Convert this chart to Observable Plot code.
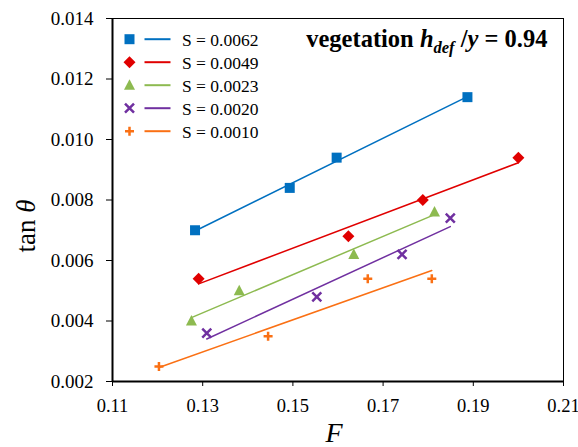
<!DOCTYPE html>
<html><head><meta charset="utf-8">
<script src="https://cdn.jsdelivr.net/npm/d3@7"></script>
<script src="https://cdn.jsdelivr.net/npm/@observablehq/plot@0.6"></script>
<style>
body{margin:0;background:#fff}
#chart svg, #chart svg text, #chart svg tspan { font-family: "Liberation Serif", "Times New Roman", serif !important; }
</style>
</head><body><div id="chart"></div>
<script>
// ---- data ----
const seriesLabels = ["S = 0.0062", "S = 0.0049", "S = 0.0023", "S = 0.0020", "S = 0.0010"];
const F_0062 = [0.1283, 0.1493, 0.1597, 0.1887];
const tan_0062 = [0.0070, 0.0084, 0.0094, 0.0114];
const F_0049 = [0.1291, 0.1623, 0.1788, 0.2000];
const tan_0049 = [0.0054, 0.0068, 0.0080, 0.0094];
const F_0023 = [0.1275, 0.1381, 0.1635, 0.1814];
const tan_0023 = [0.0040, 0.0050, 0.0062, 0.0076];
const F_0020 = [0.1309, 0.1553, 0.1742, 0.1849];
const tan_0020 = [0.0036, 0.0048, 0.0062, 0.0074];
const F_0010 = [0.1203, 0.1445, 0.1666, 0.1808];
const tan_0010 = [0.0025, 0.0035, 0.0054, 0.0054];
const xTicks = [0.11, 0.13, 0.15, 0.17, 0.19, 0.21];
const yTicks = [0.002, 0.004, 0.006, 0.008, 0.010, 0.012, 0.014];
const annotationText = "vegetation hdef /y = 0.94";
const yLabel = "tan θ";
const xLabel = "F";

// ---- styling ----
const FONT = "'Liberation Serif', 'Times New Roman', serif";
const colors = ["#0070C0", "#E00000", "#8DBA50", "#7030A0", "#FA7014"];
const sym = {
  square: {draw(c){ c.rect(-5, -5, 10, 10); }},
  diamond: {draw(c){ c.moveTo(0,-6); c.lineTo(6,0); c.lineTo(0,6); c.lineTo(-6,0); c.closePath(); }},
  triangle: {draw(c){ c.moveTo(0,-6); c.lineTo(5.5,4.5); c.lineTo(-5.5,4.5); c.closePath(); }},
  times: {draw(c){ c.moveTo(-4.5,-4.5); c.lineTo(4.5,4.5); c.moveTo(4.5,-4.5); c.lineTo(-4.5,4.5); }},
  plus: {draw(c){ c.moveTo(-4.5,0); c.lineTo(4.5,0); c.moveTo(0,-4.5); c.lineTo(0,4.5); }},
  line: {draw(c){ c.moveTo(-13,0); c.lineTo(13,0); }}
};
const symbols = [sym.square, sym.diamond, sym.triangle, sym.times, sym.plus];
const filled = [true, true, true, false, false];

const Fs = [F_0062, F_0049, F_0023, F_0020, F_0010];
const tans = [tan_0062, tan_0049, tan_0023, tan_0020, tan_0010];

const marks = [];
seriesLabels.forEach((s, i) => {
  const rows = Fs[i].map((f, j) => ({S: s, F: f, tan: tans[i][j]}));
  marks.push(Plot.linearRegressionY(rows, {x: "F", y: "tan", stroke: colors[i], strokeWidth: 1.5, ci: 0}));
  marks.push(Plot.dot(rows, filled[i]
    ? {x: "F", y: "tan", symbol: symbols[i], fill: colors[i], stroke: "none"}
    : {x: "F", y: "tan", symbol: symbols[i], fill: "none", stroke: colors[i], strokeWidth: 2.5}));
  // legend row
  const dy = 20.7 + 23 * i;
  marks.push(Plot.dot([s], filled[i]
    ? {frameAnchor: "top-left", dx: 17, dy, symbol: symbols[i], fill: colors[i], stroke: "none"}
    : {frameAnchor: "top-left", dx: 17, dy, symbol: symbols[i], fill: "none", stroke: colors[i], strokeWidth: 2.5}));
  marks.push(Plot.dot([s], {frameAnchor: "top-left", dx: 45, dy, symbol: sym.line, fill: "none", stroke: colors[i], strokeWidth: 2}));
  marks.push(Plot.text([s], {frameAnchor: "top-left", dx: 69.5, dy: dy + 1, text: d => d, textAnchor: "start", lineAnchor: "middle", fontSize: 17.5, fontFamily: FONT}));
});

const chart = Plot.plot({
  width: 578,
  height: 447,
  marginLeft: 112,
  marginRight: 15,
  marginTop: 18,
  marginBottom: 66,
  style: {fontFamily: FONT, fontSize: "19px", color: "black", background: "white"},
  x: {domain: [0.11, 0.21]},
  y: {domain: [0.002, 0.014]},
  marks: [
    Plot.frame({stroke: "black", strokeWidth: 1}),
    Plot.axisX(xTicks, {tickSize: 5, tickPadding: 12, tickFormat: d => d.toFixed(2), label: null, fontSize: 18.5, fontFamily: FONT}),
    Plot.axisY(yTicks, {tickSize: 6, tickPadding: 13, tickFormat: d => d.toFixed(3), label: null, fontSize: 19, fontFamily: FONT}),
    Plot.ruleX([0.11], {stroke: "black", strokeWidth: 2}),
    Plot.ruleY([0.002], {stroke: "black", strokeWidth: 2}),
    ...marks,
    Plot.text([annotationText], {frameAnchor: "top-right", text: d => d, textAnchor: "end", lineAnchor: "middle", dx: -16, dy: 21, fontSize: 24.5, fontWeight: "bold", fontFamily: FONT}),
    Plot.text([yLabel], {frameAnchor: "left", text: d => d, rotate: -90, lineAnchor: "middle", textAnchor: "middle", dx: -86, dy: 26, fontSize: 27, fontFamily: FONT}),
    Plot.text([xLabel], {frameAnchor: "bottom", text: d => d, lineAnchor: "middle", textAnchor: "middle", dx: -4, dy: 52, fontSize: 28, fontStyle: "italic", fontFamily: FONT})
  ]
});

d3.select(chart).selectAll("text").attr("font-family", FONT).each(function() {
  const t = d3.select(this);
  if (this.textContent === annotationText) {
    t.text(null);
    t.append("tspan").text("vegetation ");
    t.append("tspan").attr("font-style", "italic").text("h");
    t.append("tspan").attr("font-style", "italic").attr("font-size", 16.5).attr("dy", 5.5).text("def");
    t.append("tspan").attr("dy", -5.5).text(" /");
    t.append("tspan").attr("font-style", "italic").text("y");
    t.append("tspan").text(" = 0.94");
  } else if (this.textContent === yLabel) {
    t.text(null);
    t.append("tspan").text("tan ");
    t.append("tspan").attr("font-style", "italic").text("θ");
  }
});

document.getElementById("chart").appendChild(chart);
</script>
</body></html>
